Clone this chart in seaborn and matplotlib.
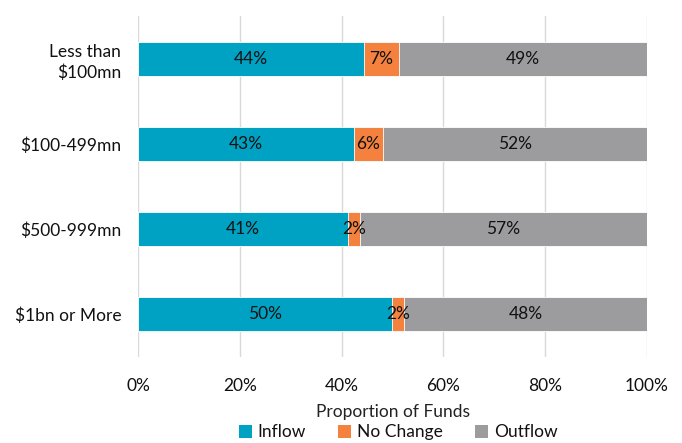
import matplotlib
matplotlib.use("Agg")
import matplotlib.pyplot as plt
import seaborn as sns
import pandas as pd
import numpy as np
from matplotlib.patches import Patch

sns.set_theme(style="white")
plt.rcParams['font.family'] = ['Lato', 'DejaVu Sans']

categories = ["Less than\n$100mn", "$100-499mn", "$500-999mn", "$1bn or More"]
inflow = [44.4, 42.4, 41.3, 49.9]
no_change = [6.9, 5.7, 2.3, 2.4]
outflow = [48.7, 51.9, 56.4, 47.7]
inflow_lbl = ["44%", "43%", "41%", "50%"]
nochange_lbl = ["7%", "6%", "2%", "2%"]
outflow_lbl = ["49%", "52%", "57%", "48%"]
series = ["Inflow", "No Change", "Outflow"]
colors = ["#00A2C4", "#F4813E", "#9C9C9E"]
xticks = [0, 20, 40, 60, 80, 100]

df = pd.DataFrame({"cat": categories, "Inflow": inflow,
                   "No Change": no_change, "Outflow": outflow})
df["c1"] = df["Inflow"]
df["c2"] = df["Inflow"] + df["No Change"]
df["c3"] = df["c2"] + df["Outflow"]

fig = plt.figure(figsize=(6.82, 4.43), dpi=100)
ax = fig.add_axes([138/682, 1-357/443, (647-138)/682, (357-16)/443])

for col, c in zip(["c3", "c2", "c1"], colors[::-1]):
    sns.barplot(data=df, y="cat", x=col, color=c, orient="h", width=0.4,
                ax=ax, edgecolor="white", linewidth=0.6, saturation=1)

fs = 12.5
txtkw = dict(ha="center", va="center", fontsize=fs, color="#111111")
for i in range(len(categories)):
    ax.text(df["c1"][i] / 2, i, inflow_lbl[i], **txtkw)
    ax.text((df["c1"][i] + df["c2"][i]) / 2, i, nochange_lbl[i], **txtkw)
    ax.text((df["c2"][i] + df["c3"][i]) / 2, i, outflow_lbl[i], **txtkw)

ax.set_xlim(0, 100)
ax.set_ylim(3.5, -0.5)
ax.set_xticks(xticks)
ax.set_xticklabels([f"{v}%" for v in xticks], fontsize=fs, color="#111111")
ax.set_yticks(range(len(categories)))
ax.set_yticklabels(categories, fontsize=fs, color="#111111", ha="right",
                   multialignment="right", linespacing=1.35)
ax.tick_params(axis="x", length=0, pad=15)
ax.tick_params(axis="y", length=0, pad=12)
ax.set_xlabel("Proportion of Funds", fontsize=fs, color="#222222", labelpad=7)
ax.set_ylabel("")
ax.grid(axis="x", color="#D9D9D9", linewidth=1)
ax.set_axisbelow(True)
for s in ax.spines.values():
    s.set_visible(False)

handles = [Patch(facecolor=c, edgecolor="none", label=s) for s, c in zip(series, colors)]
fig.legend(handles=handles, loc="center", bbox_to_anchor=(398/682, 0.024), ncol=3,
           frameon=False, fontsize=12.5, handlelength=0.75, handleheight=0.75,
           handletextpad=0.3, columnspacing=1.9, labelcolor="#111111",
           borderpad=0.2)

fig.savefig("out.png", dpi=100)
